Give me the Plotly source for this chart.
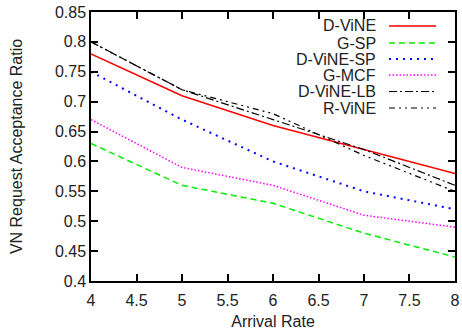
import plotly.graph_objects as go

arrival_rate = [4, 5, 6, 7, 8]
d_vine = [0.78, 0.71, 0.66, 0.62, 0.58]
g_sp = [0.63, 0.56, 0.53, 0.48, 0.44]
d_vine_sp = [0.75, 0.67, 0.60, 0.55, 0.52]
g_mcf = [0.67, 0.59, 0.56, 0.51, 0.49]
d_vine_lb = [0.80, 0.72, 0.67, 0.62, 0.56]
r_vine = [0.80, 0.72, 0.68, 0.61, 0.55]

x_ticks = [4, 4.5, 5, 5.5, 6, 6.5, 7, 7.5, 8]
x_tick_text = ["4", "4.5", "5", "5.5", "6", "6.5", "7", "7.5", "8"]
y_ticks = [0.4, 0.45, 0.5, 0.55, 0.6, 0.65, 0.7, 0.75, 0.8, 0.85]
y_tick_text = ["0.4", "0.45", "0.5", "0.55", "0.6", "0.65", "0.7", "0.75", "0.8", "0.85"]

series = [
    ("D-ViNE", d_vine, "#ff0000", "solid", 1.5),
    ("G-SP", g_sp, "#00ee00", "6px,4px", 1.5),
    ("D-ViNE-SP", d_vine_sp, "#0000ff", "2px,5px", 2),
    ("G-MCF", g_mcf, "#ff00ff", "1.5px,2px", 1.5),
    ("D-ViNE-LB", d_vine_lb, "#000000", "8px,3px,2px,3px", 1.2),
    ("R-ViNE", r_vine, "#000000", "6px,4px,2px,4px,2px,4px", 1.2),
]

FONT = "Liberation Sans, Arial"
TXT = "#222"
L, R, T, B = 91, 7, 12, 51
W, H = 462, 332
pw, ph = W - L - R, H - T - B

fig = go.Figure()
for name, vals, col, dash, w in series:
    fig.add_trace(go.Scatter(x=arrival_rate, y=vals, mode="lines", name=name,
                             line=dict(color=col, dash=dash, width=w), showlegend=False))

# manual legend (text left of sample line)
rows_py = [26, 43, 59, 75, 91.5, 108]
text_right_px = 378
line_x0_px, line_x1_px = 389, 436
for (name, vals, col, dash, w), py in zip(series, rows_py):
    yp = (H - B - py) / ph
    fig.add_annotation(x=(text_right_px - L) / pw, y=yp, xref="paper", yref="paper",
                       text=name, showarrow=False, xanchor="right", yanchor="middle",
                       font=dict(size=16, color=TXT, family=FONT))
    fig.add_shape(type="line", xref="paper", yref="paper",
                  x0=(line_x0_px - L) / pw, x1=(line_x1_px - L) / pw, y0=yp, y1=yp,
                  line=dict(color=col, dash=dash, width=w))

axis_common = dict(showline=True, linecolor="black", linewidth=1.5, mirror="allticks",
                   ticks="inside", ticklen=7, tickwidth=1.5, tickcolor="black",
                   showgrid=False, zeroline=False, automargin=False,
                   tickfont=dict(size=16, color=TXT, family=FONT))

fig.update_layout(
    width=W, height=H,
    margin=dict(l=L, r=R, t=T, b=B),
    paper_bgcolor="white", plot_bgcolor="white",
    xaxis=dict(range=[3.9999, 8.0001], tickmode="array", tickvals=x_ticks, ticktext=x_tick_text,
               ticklabelstandoff=4,
               title=dict(text="Arrival Rate", standoff=8,
                          font=dict(size=16, color=TXT, family=FONT)),
               **axis_common),
    yaxis=dict(range=[0.39999, 0.85001], tickmode="array", tickvals=y_ticks, ticktext=y_tick_text,
               title=dict(text="VN Request Acceptance Ratio", standoff=28,
                          font=dict(size=16, color=TXT, family=FONT)),
               **axis_common),
)

fig.write_html("out.html", config={"displayModeBar": False},
               post_script="document.body.style.margin='0';document.body.style.padding='0';")
